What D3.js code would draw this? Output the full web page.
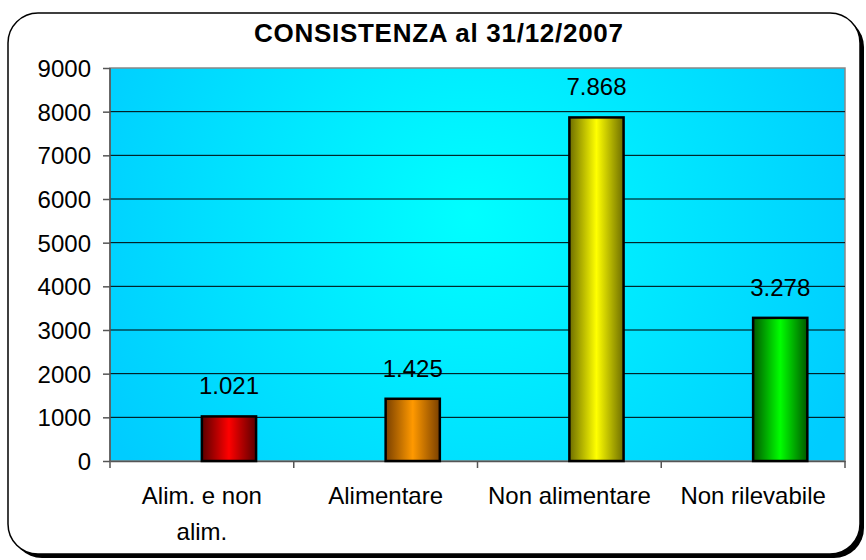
<!DOCTYPE html>
<html lang="en">
<head>
<meta charset="utf-8">
<title>Consistenza</title>
<script src="https://cdn.jsdelivr.net/npm/d3@7"></script>
<style>
  body { margin: 0; background: #fff; }
  text { font-family: "Liberation Sans", Arial, sans-serif; }
</style>
</head>
<body>
<div class="chart"></div>
<script>
var categories = ["Alim. e non alim.", "Alimentare", "Non alimentare", "Non rilevabile"];
var catLines = [["Alim. e non", "alim."], ["Alimentare"], ["Non alimentare"], ["Non rilevabile"]];
var values = [1021, 1425, 7868, 3278];
var valueLabels = ["1.021", "1.425", "7.868", "3.278"];
var yTicks = [0, 1000, 2000, 3000, 4000, 5000, 6000, 7000, 8000, 9000];
var barColors = [["#5a0000", "#ff0000"], ["#7a4000", "#ff9900"], ["#6e6e00", "#ffff00"], ["#005a00", "#00ff00"]];

var W = 866, H = 560;
var m = {top: 68, left: 110, right: 21, bottom: 99};

var svg = d3.select(".chart").append("svg")
  .attr("width", W).attr("height", H);

var defs = svg.append("defs");
var bg = defs.append("radialGradient").attr("id", "bg")
  .attr("gradientUnits", "userSpaceOnUse")
  .attr("cx", 470).attr("cy", 215).attr("r", 420);
bg.append("stop").attr("offset", "0%").attr("stop-color", "#00ffff");
bg.append("stop").attr("offset", "100%").attr("stop-color", "#00ccff");

barColors.forEach(function(c, i) {
  var g = defs.append("linearGradient").attr("id", "bar" + i)
    .attr("x1", "0%").attr("x2", "100%").attr("y1", "0%").attr("y2", "0%");
  g.append("stop").attr("offset", "0%").attr("stop-color", c[0]);
  g.append("stop").attr("offset", "50%").attr("stop-color", c[1]);
  g.append("stop").attr("offset", "100%").attr("stop-color", c[0]);
});

// outer frame with shadow
svg.append("rect").attr("x", 12).attr("y", 17).attr("width", 852).attr("height", 541)
  .attr("rx", 30).attr("fill", "#000");
svg.append("rect").attr("x", 8).attr("y", 13).attr("width", 852).attr("height", 541)
  .attr("rx", 30).attr("fill", "#fff").attr("stroke", "#000").attr("stroke-width", 1.5);

svg.append("text").attr("x", 438.5).attr("y", 42)
  .attr("text-anchor", "middle").attr("font-size", 26).attr("font-weight", "bold")
  .attr("textLength", 369).attr("lengthAdjust", "spacing")
  .text("CONSISTENZA al 31/12/2007");

var iw = W - m.left - m.right, ih = H - m.top - m.bottom;

var x = d3.scaleBand().domain(categories).range([m.left, m.left + iw]);
var y = d3.scaleLinear().domain([0, 9000]).range([m.top + ih, m.top]);

svg.append("rect").attr("x", m.left).attr("y", m.top).attr("width", iw).attr("height", ih)
  .attr("fill", "url(#bg)").attr("stroke", "#888").attr("stroke-width", 1.5);

svg.append("g").selectAll("line").data(yTicks.slice(1, -1)).enter().append("line")
  .attr("x1", m.left).attr("x2", m.left + iw)
  .attr("y1", function(d) { return y(d); }).attr("y2", function(d) { return y(d); })
  .attr("stroke", "#000").attr("stroke-width", 1);

var yAxis = svg.append("g").attr("transform", "translate(" + m.left + ",0)")
  .call(d3.axisLeft(y).tickValues(yTicks).tickSize(7).tickPadding(12).tickFormat(d3.format("d")));
yAxis.selectAll("text").attr("font-size", 24).attr("fill", "#000").attr("dy", "0.36em");
yAxis.selectAll("line, path").attr("stroke", "#555").attr("stroke-width", 1.5);
yAxis.select(".domain").attr("d", "M0," + m.top + "V" + (m.top + ih));

var xAxis = svg.append("g").attr("transform", "translate(0," + (m.top + ih) + ")")
  .call(d3.axisBottom(x).tickSize(0).tickFormat(""));
xAxis.select(".domain").attr("stroke", "#555").attr("stroke-width", 1.5);
xAxis.selectAll(".sep").data(x.domain().concat(["end"])).enter().append("line")
  .attr("class", "sep")
  .attr("x1", function(d, i) { return m.left + i * x.bandwidth(); })
  .attr("x2", function(d, i) { return m.left + i * x.bandwidth(); })
  .attr("y1", 0).attr("y2", 7).attr("stroke", "#555").attr("stroke-width", 1.5);

var bw = x.bandwidth() * 0.295;
svg.append("g").selectAll("rect").data(values).enter().append("rect")
  .attr("x", function(d, i) { return x(categories[i]) + x.bandwidth() / 2; })
  .attr("y", function(d) { return y(d); })
  .attr("width", bw)
  .attr("height", function(d) { return y(0) - y(d); })
  .attr("fill", function(d, i) { return "url(#bar" + i + ")"; })
  .attr("stroke", "#000").attr("stroke-width", 2.5);

svg.append("g").selectAll("text").data(values).enter().append("text")
  .attr("x", function(d, i) { return x(categories[i]) + x.bandwidth() / 2 + bw / 2; })
  .attr("y", function(d) { return y(d) - 22; })
  .attr("text-anchor", "middle").attr("font-size", 24)
  .text(function(d, i) { return valueLabels[i]; });

catLines.forEach(function(lines, i) {
  var t = svg.append("text").attr("text-anchor", "middle").attr("font-size", 24)
    .attr("x", x(categories[i]) + x.bandwidth() / 2).attr("y", 504);
  lines.forEach(function(l, j) {
    t.append("tspan").attr("x", x(categories[i]) + x.bandwidth() / 2)
      .attr("dy", j === 0 ? 0 : 36).text(l);
  });
});
</script>
</body>
</html>
